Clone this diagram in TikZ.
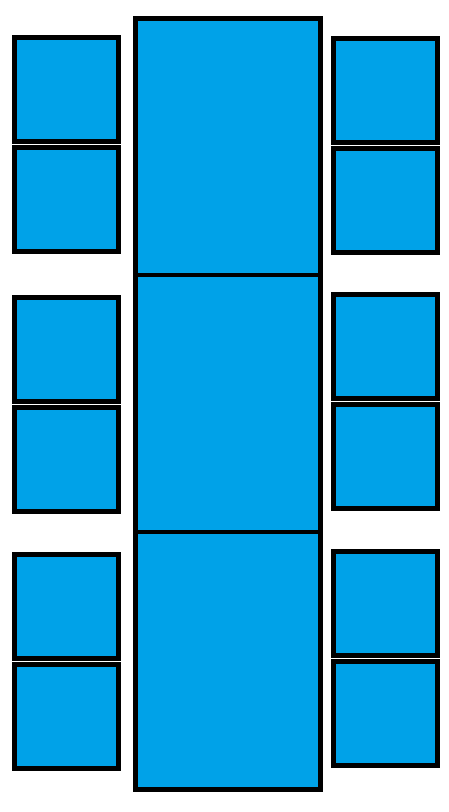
\documentclass[tikz,border=0pt]{standalone}
\definecolor{tile}{RGB}{0,162,232}
\begin{document}
\begin{tikzpicture}[x=1pt,y=-1pt,
  sq/.style={draw=black,fill=tile,line width=5pt,minimum width=104pt,minimum height=104pt,inner sep=0pt,outer sep=0pt}]
\useasboundingbox (0,0) rectangle (449,812);
% central column
\node[draw=black,fill=tile,line width=5pt,minimum width=185pt,minimum height=771pt,inner sep=0pt,outer sep=0pt] (mid) at (228,404) {};
\coordinate (d1l) at (135.5,275); \coordinate (d1r) at (320.5,275);
\coordinate (d2l) at (135.5,532); \coordinate (d2r) at (320.5,532);
\draw[line width=4pt] (d1l) -- (d1r);
\draw[line width=4pt] (d2l) -- (d2r);
% left squares
\node[sq] (l1) at (66.5,89.5) {};
\node[sq] (l2) at (66.5,199.5) {};
\node[sq] (l3) at (66.5,349.5) {};
\node[sq] (l4) at (66.5,459.5) {};
\node[sq] (l5) at (66.5,606.5) {};
\node[sq] (l6) at (66.5,716.5) {};
% right squares
\node[sq] (r1) at (385.5,90.5) {};
\node[sq] (r2) at (385.5,200.5) {};
\node[sq] (r3) at (385.5,346.5) {};
\node[sq] (r4) at (385.5,456.5) {};
\node[sq] (r5) at (385.5,603.5) {};
\node[sq] (r6) at (385.5,713.5) {};
\end{tikzpicture}
\end{document}
